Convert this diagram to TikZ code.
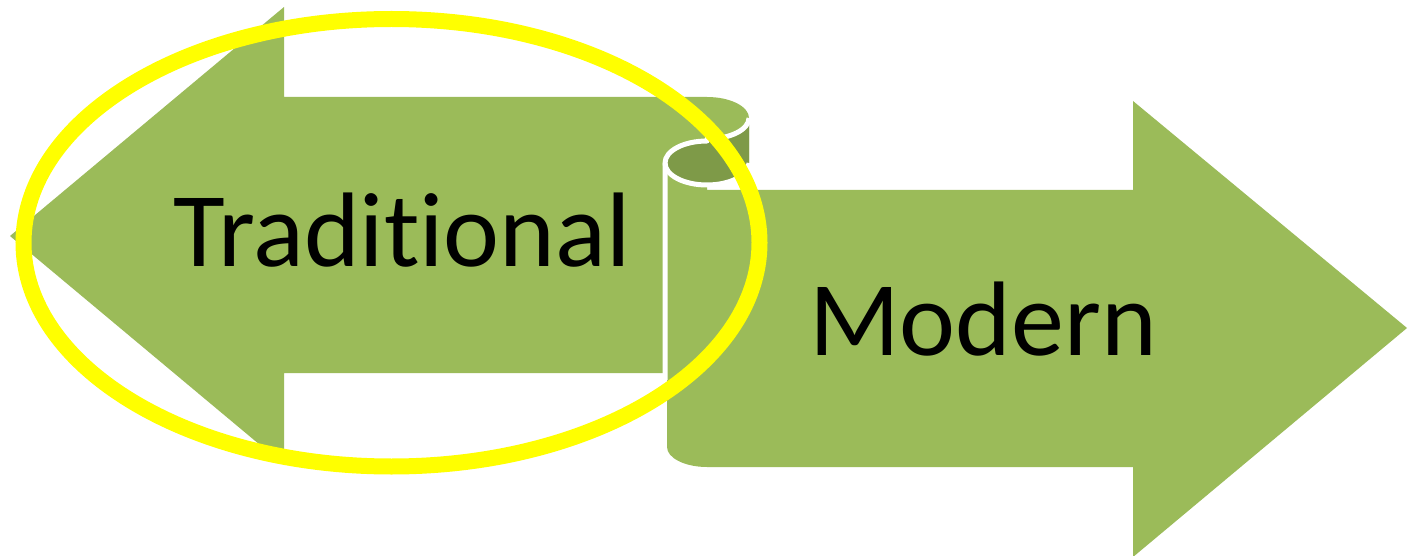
\documentclass[tikz,border=0pt]{standalone}
\usepackage{fontspec}
\setmainfont[Ligatures={NoCommon,NoRequired}]{Carlito}
\definecolor{leafgreen}{HTML}{9BBB59}
\definecolor{rollshade}{HTML}{7E9A48}
\definecolor{ringyellow}{HTML}{FFFF00}
\tikzset{
  arrowbody/.style={fill=leafgreen, draw=none},
  rollinside/.style={fill=rollshade, draw=none},
  rolledge/.style={draw=white, line width=5pt, line join=round, line cap=butt},
  biglabel/.style={anchor=base, inner sep=0pt, text=black, font=\fontsize{106}{110}\selectfont},
  ring/.style={draw=ringyellow, line width=16pt}
}
\begin{document}
\begin{tikzpicture}[x=1pt, y=-1pt]
  \useasboundingbox (0,0) rectangle (1416,556);

  % right-pointing arrow (lower layer of the scroll)
  \path[arrowbody] (667,163) -- (667,447)
    .. controls (667,458) and (685,467) .. (707,467)
    -- (1133,467) -- (1133,557) -- (1407,328) -- (1133,101) -- (1133,190)
    -- (707,190) -- (707,163) -- cycle;

  % left-pointing arrow with its rolled top end
  \path[arrowbody] (10,236) -- (284,7) -- (284,97) -- (707,97)
    .. controls (730.2,97) and (749,106.4) .. (749,118)
    -- (749,163) -- (663,163) -- (663,373) -- (284,373) -- (284,465) -- cycle;

  % inside of the roll
  \path[rollinside] (665,163)
    .. controls (665,175.2) and (683.8,185) .. (707,185)
    .. controls (730.2,185) and (749,175.2) .. (749,163)
    -- (749,118)
    .. controls (749,129.6) and (730.2,139) .. (707,139)
    -- (707,141)
    .. controls (683.8,141) and (665,150.8) .. (665,163) -- cycle;

  % white edges of the roll
  \draw[rolledge] (749,118)
    .. controls (749,129.6) and (730.2,139) .. (707,139)
    -- (707,141)
    .. controls (683.8,141) and (665,150.8) .. (665,163)
    -- (665,380);
  \draw[rolledge] (665,163)
    .. controls (665,175.2) and (683.8,185) .. (707,185)
    .. controls (730.2,185) and (749,175.2) .. (749,163);

  % labels
  \node[biglabel] (trad) at (402,266) {Traditional};
  \node[biglabel] (mod) at (983,355) {Modern};

  % highlight ring
  \draw[ring] (391.5,242.75) ellipse [x radius=368, y radius=223.75];
\end{tikzpicture}
\end{document}
